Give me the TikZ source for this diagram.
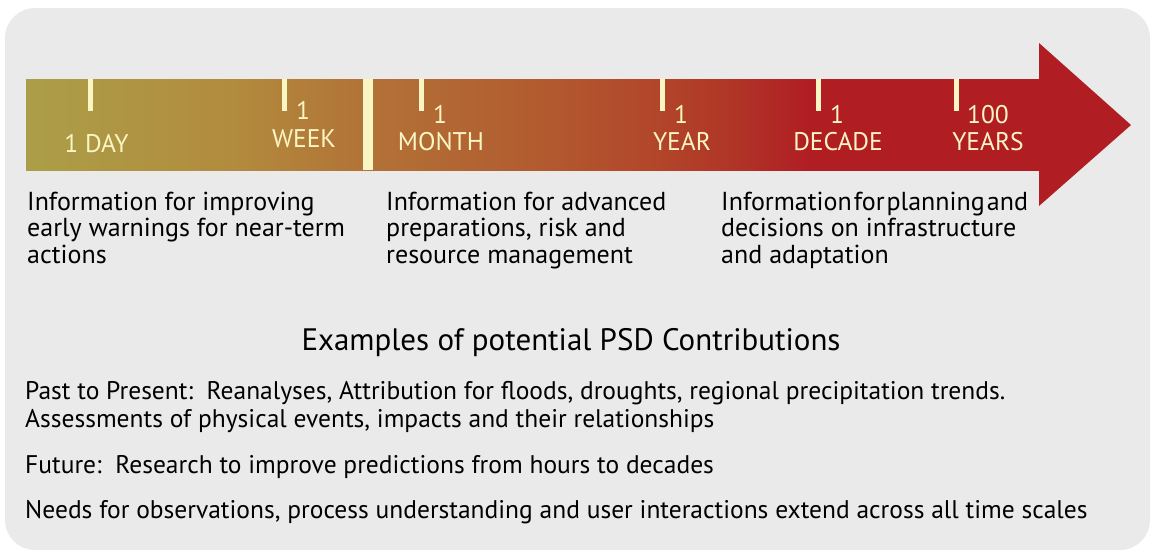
\documentclass[tikz,border=0pt]{standalone}
\usepackage{fontspec}
\setmainfont{PT Sans}
\usepackage{tikz}
\usetikzlibrary{calc}
\definecolor{panelgray}{RGB}{234,234,234}
\definecolor{tickcream}{RGB}{250,246,196}
\definecolor{bandolive}{RGB}{172,158,72}
\definecolor{bandgold}{RGB}{178,140,62}
\definecolor{bandbrown}{RGB}{178,115,55}
\definecolor{bandrust}{RGB}{178,92,48}
\definecolor{bandorange}{RGB}{178,70,42}
\definecolor{bandscarlet}{RGB}{176,52,38}
\definecolor{arrowred}{RGB}{176,30,36}
\pgfdeclarehorizontalshading{timeband}{100bp}{color(0bp)=(bandolive); color(25bp)=(bandolive); color(35bp)=(bandgold); color(41.5bp)=(bandbrown); color(50bp)=(bandrust); color(56bp)=(bandorange); color(60bp)=(bandscarlet); color(63.5bp)=(arrowred); color(75bp)=(arrowred); color(100bp)=(arrowred)}
\def\scalemark(#1){\draw[line width=5pt, tickcream] (#1, 79) -- (#1, 111);}
\tikzset{
  scalelabel/.style={text=tickcream, anchor=base, inner sep=0pt, align=center, font=\fontsize{25.5}{27}\selectfont},
  infotext/.style={anchor=base west, inner sep=0pt, align=left, font=\fontsize{26}{26.5}\selectfont},
  psdtext/.style={anchor=base west, inner sep=0pt, align=left, font=\fontsize{25.5}{28}\selectfont}
}

\begin{document}
\begin{tikzpicture}[x=1pt, y=-1pt]
		%%%%% START %%%%%
		\useasboundingbox (0, 0) rectangle (1155, 552);
		\fill[panelgray, rounded corners=30pt] (5, 8) rectangle (1150, 550);
		
		% time arrow
		\shade[shading=timeband] (26, 79) rectangle (1040, 170);
		\fill[arrowred] (1039, 43) -- (1131, 125) -- (1039, 206) -- cycle;
		\fill[tickcream] (363, 79) rectangle (373, 170);
		
		\scalemark(90)
		\scalemark(284)
		\scalemark(421)
		\scalemark(662)
		\scalemark(818)
		\scalemark(956)
		
		\node[scalelabel] (day) at (96.5, 152) {1 DAY};
		\node[scalelabel] (weekn) at (303, 119) {1};
		\node[scalelabel] (week) at (304, 147) {WEEK};
		\node[scalelabel] (monthn) at (440, 123) {1};
		\node[scalelabel] (month) at (441, 150) {MONTH};
		\node[scalelabel] (yearn) at (681, 123) {1};
		\node[scalelabel] (year) at (682, 150) {YEAR};
		\node[scalelabel] (decaden) at (837, 123) {1};
		\node[scalelabel] (decade) at (838, 150) {DECADE};
		\node[scalelabel] (centuryn) at (988, 123) {100};
		\node[scalelabel] (century) at (988, 150) {YEARS};
		
		% what each range is good for (base = last line)
		\node[infotext] (nearterm) at (27, 263) {Information for improving\\early warnings for near-term\\actions};
		\node[infotext] (seasonal) at (386, 263) {Information for advanced\\preparations, risk and\\resource management};
		\node[infotext] (longterm) at (721, 263) {{\spaceskip=0.08em Information for planning and}\\decisions on infrastructure\\and adaptation};
		
		% contributions
		\node[anchor=base, inner sep=0pt, font=\fontsize{31}{33}\selectfont] (examples) at (571, 350) {Examples of potential PSD Contributions};
		\node[psdtext] (past) at (25, 427) {Past to Present:\ \ Reanalyses, Attribution for floods, droughts, regional precipitation trends.\\Assessments of physical events, impacts and their relationships};
		\node[psdtext] (future) at (25, 473) {Future:\ \ Research to improve predictions from hours to decades};
		\node[psdtext] (needs) at (25, 518) {Needs for observations, process understanding and user interactions extend across all time scales};
		%%%%% END %%%%%
	\end{tikzpicture}
\end{document}
